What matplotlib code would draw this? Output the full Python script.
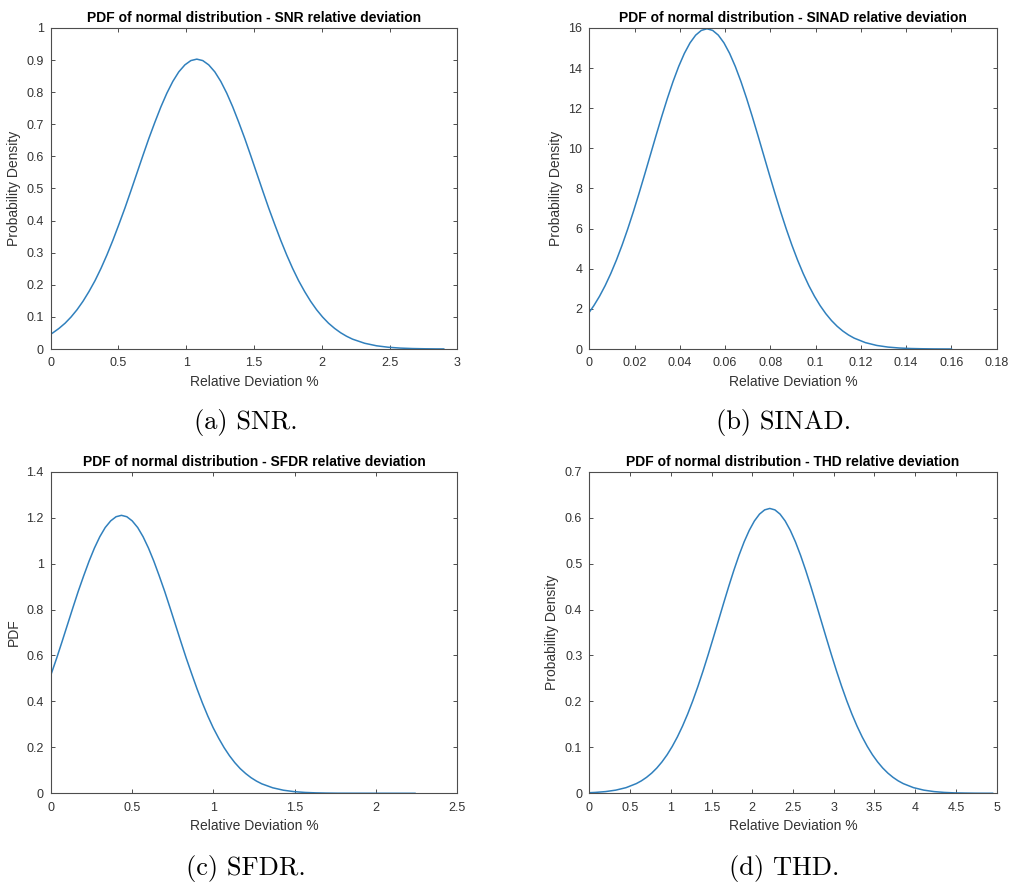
import matplotlib
matplotlib.use("Agg")
import matplotlib.pyplot as plt
from matplotlib.ticker import FixedLocator, FixedFormatter

# ---- SNR relative deviation PDF ----
snr_x = [0, 0.017, 0.061, 0.106, 0.150, 0.194, 0.238, 0.282, 0.327, 0.371, 0.415,
         0.459, 0.503, 0.548, 0.592, 0.636, 0.680, 0.724, 0.769, 0.813, 0.857,
         0.901, 0.945, 0.990, 1.034, 1.078, 1.122, 1.166, 1.211, 1.255, 1.299,
         1.343, 1.387, 1.432, 1.476, 1.520, 1.564, 1.608, 1.653, 1.697, 1.741,
         1.785, 1.829, 1.874, 1.918, 1.962, 2.006, 2.050, 2.095, 2.139, 2.183,
         2.227, 2.316, 2.404, 2.492, 2.581, 2.669, 2.758, 2.846, 2.900]
snr_y = [0.0461, 0.0507, 0.0641, 0.0803, 0.0996, 0.1222, 0.1485, 0.1787, 0.2129,
         0.2511, 0.2932, 0.3389, 0.3879, 0.4395, 0.4931, 0.5477, 0.6023, 0.6557,
         0.7068, 0.7543, 0.7969, 0.8336, 0.8633, 0.8851, 0.8985, 0.9030, 0.8985,
         0.8851, 0.8633, 0.8336, 0.7969, 0.7543, 0.7068, 0.6557, 0.6023, 0.5477,
         0.4931, 0.4395, 0.3879, 0.3389, 0.2932, 0.2511, 0.2129, 0.1787, 0.1485,
         0.1222, 0.0996, 0.0803, 0.0641, 0.0507, 0.0397, 0.0307, 0.0179, 0.0100,
         0.0054, 0.0028, 0.0014, 0.0007, 0.0003, 0.0002]
snr_xticks = [0, 0.5, 1, 1.5, 2, 2.5, 3]
snr_yticks = [0, 0.1, 0.2, 0.3, 0.4, 0.5, 0.6, 0.7, 0.8, 0.9, 1]

# ---- SINAD relative deviation PDF ----
sinad_x = [0, 0.002, 0.0045, 0.007, 0.0095, 0.012, 0.0145, 0.017, 0.0195, 0.022,
           0.0245, 0.027, 0.0295, 0.032, 0.0345, 0.037, 0.0395, 0.042, 0.0445,
           0.047, 0.0495, 0.052, 0.0545, 0.057, 0.0595, 0.062, 0.0645, 0.067,
           0.0695, 0.072, 0.0745, 0.077, 0.0795, 0.082, 0.0845, 0.087, 0.0895,
           0.092, 0.0945, 0.097, 0.0995, 0.102, 0.1045, 0.107, 0.1095, 0.112,
           0.1145, 0.117, 0.122, 0.127, 0.132, 0.137, 0.142, 0.147, 0.152, 0.157,
           0.160]
sinad_y = [1.835, 2.160, 2.625, 3.158, 3.763, 4.438, 5.181, 5.990, 6.856, 7.769,
           8.715, 9.680, 10.645, 11.589, 12.492, 13.331, 14.085, 14.733, 15.258,
           15.644, 15.880, 15.960, 15.880, 15.644, 15.258, 14.733, 14.085, 13.331,
           12.492, 11.589, 10.645, 9.680, 8.715, 7.769, 6.856, 5.990, 5.181,
           4.438, 3.763, 3.158, 2.625, 2.160, 1.760, 1.419, 1.133, 0.896,
           0.701, 0.543, 0.317, 0.177, 0.095, 0.049, 0.024, 0.012, 0.005, 0.002,
           0.001]
sinad_xticks = [0, 0.02, 0.04, 0.06, 0.08, 0.1, 0.12, 0.14, 0.16, 0.18]
sinad_yticks = [0, 2, 4, 6, 8, 10, 12, 14, 16]

# ---- SFDR relative deviation PDF ----
sfdr_x = [0, 0.037, 0.070, 0.103, 0.136, 0.169, 0.203, 0.236, 0.269, 0.302, 0.335,
          0.369, 0.402, 0.435, 0.468, 0.501, 0.535, 0.568, 0.601, 0.634, 0.667,
          0.701, 0.734, 0.767, 0.800, 0.833, 0.867, 0.900, 0.933, 0.966, 0.999,
          1.033, 1.066, 1.099, 1.132, 1.165, 1.199, 1.232, 1.265, 1.298, 1.365,
          1.431, 1.497, 1.564, 1.630, 1.697, 1.763, 2.240]
sfdr_y = [0.513, 0.5890, 0.6607, 0.7339, 0.8070, 0.8786, 0.9471, 1.0107, 1.0678,
          1.1170, 1.1568, 1.1860, 1.2040, 1.2100, 1.2040, 1.1860, 1.1568, 1.1170,
          1.0678, 1.0107, 0.9471, 0.8786, 0.8070, 0.7339, 0.6607, 0.5890, 0.5198,
          0.4541, 0.3928, 0.3364, 0.2853, 0.2395, 0.1990, 0.1638, 0.1334, 0.1076,
          0.0859, 0.0679, 0.0532, 0.0412, 0.0240, 0.0134, 0.0072, 0.0037, 0.0019,
          0.0009, 0.0004, 0.0000]
sfdr_xticks = [0, 0.5, 1, 1.5, 2, 2.5]
sfdr_yticks = [0, 0.2, 0.4, 0.6, 0.8, 1, 1.2, 1.4]

# ---- THD relative deviation PDF ----
thd_x = [0, 0.073, 0.199, 0.325, 0.451, 0.577, 0.640, 0.703, 0.766, 0.829, 0.892,
         0.955, 1.018, 1.081, 1.144, 1.207, 1.270, 1.333, 1.396, 1.459, 1.522,
         1.585, 1.648, 1.711, 1.774, 1.837, 1.900, 1.963, 2.026, 2.089, 2.152,
         2.215, 2.278, 2.341, 2.404, 2.467, 2.530, 2.593, 2.656, 2.719, 2.782,
         2.845, 2.908, 2.971, 3.034, 3.097, 3.160, 3.223, 3.286, 3.349, 3.412,
         3.475, 3.538, 3.601, 3.664, 3.727, 3.790, 3.853, 3.979, 4.105, 4.231,
         4.357, 4.483, 4.609, 4.735, 4.861, 4.950]
thd_y = [0.0013, 0.0019, 0.0037, 0.0069, 0.0123, 0.0211, 0.0272, 0.0348, 0.0440,
         0.0551, 0.0684, 0.0839, 0.1020, 0.1227, 0.1462, 0.1724, 0.2013, 0.2327,
         0.2663, 0.3018, 0.3386, 0.3760, 0.4135, 0.4502, 0.4853, 0.5179, 0.5472,
         0.5723, 0.5927, 0.6077, 0.6169, 0.6200, 0.6169, 0.6077, 0.5927, 0.5723,
         0.5472, 0.5179, 0.4853, 0.4502, 0.4135, 0.3760, 0.3386, 0.3018, 0.2663,
         0.2327, 0.2013, 0.1724, 0.1462, 0.1227, 0.1020, 0.0839, 0.0684, 0.0551,
         0.0440, 0.0348, 0.0272, 0.0211, 0.0123, 0.0069, 0.0037, 0.0019, 0.0009,
         0.0005, 0.0002, 0.0001, 0.0001]
thd_xticks = [0, 0.5, 1, 1.5, 2, 2.5, 3, 3.5, 4, 4.5, 5]
thd_yticks = [0, 0.1, 0.2, 0.3, 0.4, 0.5, 0.6, 0.7]

titles = ["PDF of normal distribution - SNR relative deviation",
          "PDF of normal distribution - SINAD relative deviation",
          "PDF of normal distribution - SFDR relative deviation",
          "PDF of normal distribution - THD relative deviation"]
ylabels = ["Probability Density", "Probability Density", "PDF", "Probability Density"]
xlabel = "Relative Deviation %"
captions = ["(a) SNR.", "(b) SINAD.", "(c) SFDR.", "(d) THD."]

W, H = 1011, 882
fig = plt.figure(figsize=(W / 100, H / 100), dpi=100)
fig.patch.set_facecolor("white")

SANS = "Liberation Sans"
LINE = "#3080bd"
AXC = "#4d4d4d"
TXT = "#333333"

# axes boxes in pixels: left, top, right, bottom
boxes = [(50.7, 28, 457.3, 349), (589.3, 28, 996.7, 349),
         (50.7, 471.7, 457.3, 793.3), (589.3, 471.7, 996.7, 793.3)]
series = [(snr_x, snr_y, snr_xticks, snr_yticks),
          (sinad_x, sinad_y, sinad_xticks, sinad_yticks),
          (sfdr_x, sfdr_y, sfdr_xticks, sfdr_yticks),
          (thd_x, thd_y, thd_xticks, thd_yticks)]
caption_pos = [(246, 429), (784, 429), (246, 875), (784, 875)]


def fmt(v):
    return "%g" % v


for i, ((l, t, r, b), (xs, ys, xt, yt)) in enumerate(zip(boxes, series)):
    ax = fig.add_axes([l / W, 1 - b / H, (r - l) / W, (b - t) / H])
    ax.plot(xs, ys, color=LINE, lw=1.1, solid_joinstyle="round")
    ax.set_xlim(xt[0], xt[-1])
    ax.set_ylim(yt[0], yt[-1])
    ax.xaxis.set_major_locator(FixedLocator(xt))
    ax.xaxis.set_major_formatter(FixedFormatter([fmt(v) for v in xt]))
    ax.yaxis.set_major_locator(FixedLocator(yt))
    ax.yaxis.set_major_formatter(FixedFormatter([fmt(v) for v in yt]))
    ax.tick_params(direction="in", length=3, width=0.7, color=AXC,
                   top=True, right=True, labelsize=9, labelcolor=TXT)
    ax.tick_params(axis="x", pad=6)
    ax.tick_params(axis="y", pad=5)
    for lab in ax.get_xticklabels() + ax.get_yticklabels():
        lab.set_fontfamily(SANS)
    for sp in ax.spines.values():
        sp.set_color(AXC)
        sp.set_linewidth(0.8)
    ax.set_title(titles[i], fontsize=10, fontweight="bold", family=SANS,
                 color="black", pad=4)
    ax.set_xlabel(xlabel, fontsize=10, family=SANS, color=TXT, labelpad=4)
    ax.set_ylabel(ylabels[i], fontsize=10, family=SANS, color=TXT, labelpad=4)

    cx, cy = caption_pos[i]
    fig.text(cx / W, 1 - cy / H, captions[i], ha="center", va="baseline",
             fontsize=19, family=["cmr10", "DejaVu Serif"], color="black")

fig.savefig("out.png", dpi=100, facecolor="white")
